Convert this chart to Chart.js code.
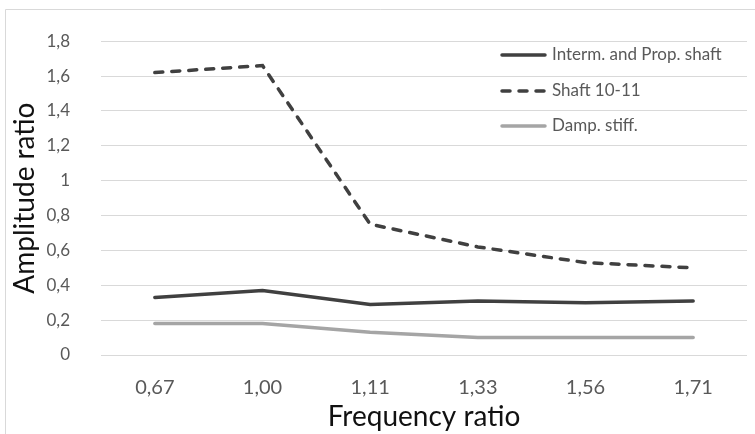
<!DOCTYPE html>
<html>
<head>
<meta charset="utf-8">
<script src="https://cdn.jsdelivr.net/npm/chart.js@4/dist/chart.umd.min.js"></script>
<style>
  html, body { margin: 0; padding: 0; background: #fff; }
  #wrap { width: 755px; height: 434px; position: relative; }
</style>
</head>
<body>
<div id="wrap"><canvas id="c" width="755" height="434"></canvas></div>
<script>
// Frequency ratios along the x axis
const categories = ['0,67', '1,00', '1,11', '1,33', '1,56', '1,71'];

// Amplitude ratio per series
const intermProp = [0.33, 0.37, 0.29, 0.31, 0.30, 0.31];
const shaft1011  = [1.62, 1.66, 0.75, 0.62, 0.53, 0.50];
const dampStiff  = [0.18, 0.18, 0.13, 0.10, 0.10, 0.10];

const seriesNames = ['Interm. and Prop. shaft', 'Shaft 10-11', 'Damp. stiff.'];

const FONT = 'Lato, "Open Sans", sans-serif';

// White page with a thin frame along the top and left
const framePlugin = {
  id: 'frame',
  beforeDraw(chart) {
    const ctx = chart.ctx;
    ctx.save();
    ctx.fillStyle = '#fff';
    ctx.fillRect(0, 0, chart.width, chart.height);
    ctx.strokeStyle = '#d9d9d9';
    ctx.lineWidth = 1;
    ctx.beginPath();
    ctx.moveTo(5.5, chart.height + 5);
    ctx.lineTo(5.5, 9.5);
    ctx.lineTo(chart.width + 5, 9.5);
    ctx.stroke();
    ctx.restore();
  }
};

// Legend stacked in the upper right of the plot
const legendPlugin = {
  id: 'insideLegend',
  afterDraw(chart) {
    const ctx = chart.ctx;
    const x0 = 502, x1 = 545, tx = 552;
    const rows = [55, 91, 126];
    ctx.save();
    chart.data.datasets.forEach((ds, i) => {
      const y = rows[i];
      ctx.strokeStyle = ds.borderColor;
      ctx.lineWidth = ds.borderWidth;
      ctx.lineCap = 'round';
      ctx.setLineDash(ds.borderDash || []);
      ctx.beginPath();
      ctx.moveTo(x0, y);
      ctx.lineTo(x1, y);
      ctx.stroke();
      ctx.setLineDash([]);
      ctx.fillStyle = '#595959';
      ctx.font = '17px ' + FONT;
      ctx.textAlign = 'left';
      ctx.textBaseline = 'middle';
      ctx.fillText(ds.label, tx, y);
    });
    ctx.restore();
  }
};

const fmt = v => {
  const n = Number(Number(v).toFixed(1));
  return String(n).replace('.', ',');
};

new Chart(document.getElementById('c'), {
  type: 'line',
  data: {
    labels: categories,
    datasets: [
      {
        label: seriesNames[0],
        data: intermProp,
        borderColor: '#404040',
        borderWidth: 3.5,
        borderCapStyle: 'round',
        pointRadius: 0,
        tension: 0,
        fill: false
      },
      {
        label: seriesNames[1],
        data: shaft1011,
        borderColor: '#404040',
        borderWidth: 3.5,
        borderDash: [8, 9],
        borderCapStyle: 'round',
        pointRadius: 0,
        tension: 0,
        fill: false
      },
      {
        label: seriesNames[2],
        data: dampStiff,
        borderColor: '#a5a5a5',
        borderWidth: 3.5,
        borderCapStyle: 'round',
        pointRadius: 0,
        tension: 0,
        fill: false
      }
    ]
  },
  options: {
    responsive: false,
    animation: false,
    devicePixelRatio: 1,
    layout: { padding: { left: 8, right: 8, top: 33, bottom: 0 } },
    plugins: {
      legend: { display: false },
      tooltip: { enabled: false }
    },
    scales: {
      x: {
        offset: true,
        grid: { display: false, drawTicks: false },
        border: { display: false },
        ticks: { color: '#595959', font: { family: FONT, size: 20 }, padding: 21 },
        title: {
          display: true,
          text: 'Frequency ratio',
          color: '#111',
          font: { family: FONT, size: 28 },
          padding: { top: 0, bottom: 0 }
        },
        afterFit(scale) { scale.height = 434 - 355; }
      },
      y: {
        min: 0,
        max: 1.8,
        grid: { color: '#d9d9d9', lineWidth: 1, drawTicks: false },
        border: { display: false },
        ticks: {
          stepSize: 0.2,
          color: '#595959',
          font: { family: FONT, size: 17 },
          padding: 31,
          callback: fmt
        },
        title: {
          display: true,
          text: 'Amplitude ratio',
          color: '#111',
          font: { family: FONT, size: 28 },
          padding: { top: 0, bottom: 0 }
        },
        afterFit(scale) { scale.width = 101 - 8; }
      }
    }
  },
  plugins: [framePlugin, legendPlugin]
});
</script>
</body>
</html>
